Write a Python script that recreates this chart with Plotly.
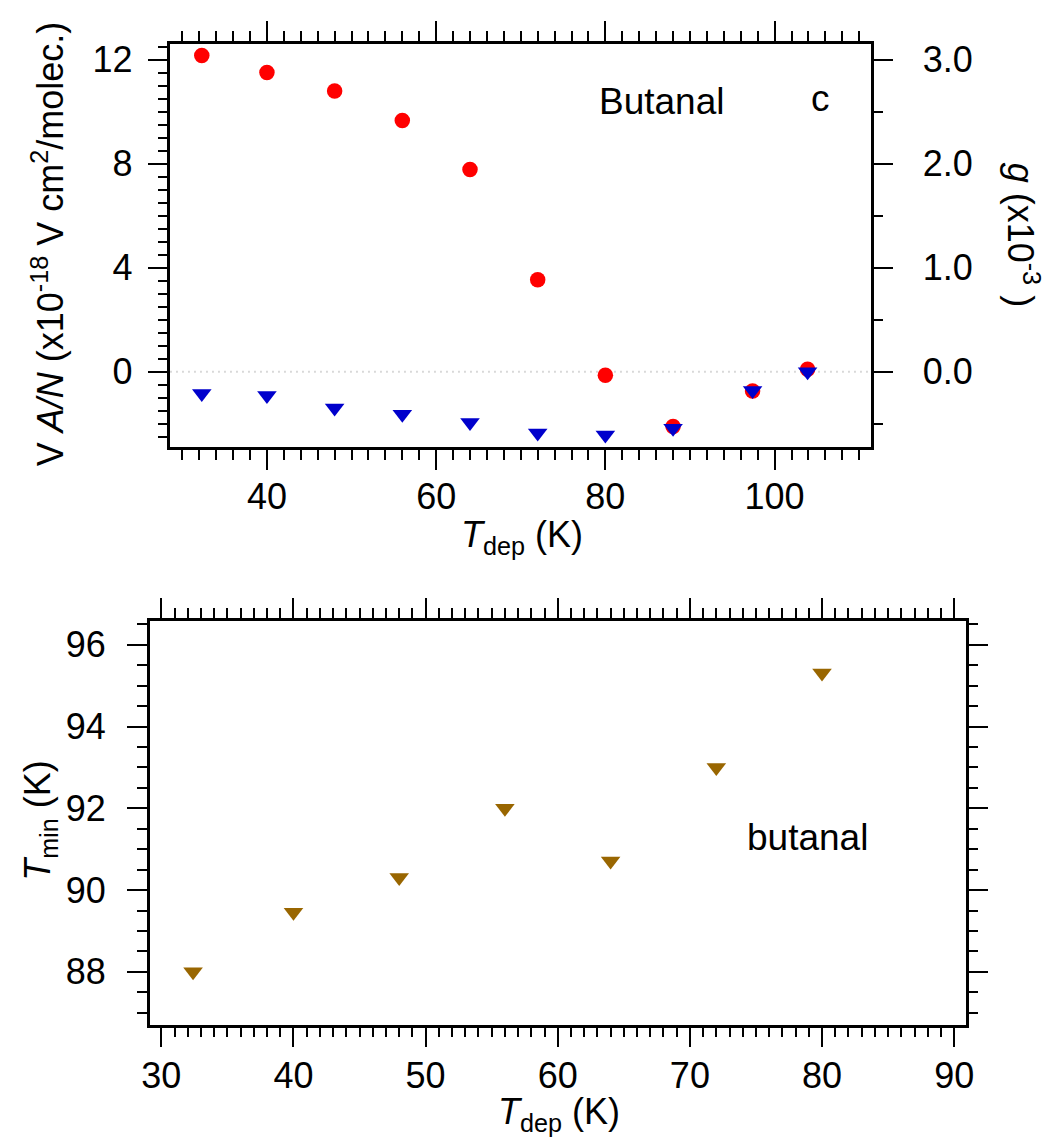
import plotly.graph_objects as go

# Deposition temperatures (K) and measured quantities for butanal films
t_dep_top = [32.3, 40, 48, 56, 64, 72, 80, 88, 97.4, 103.9]
va_over_n = [12.16, 11.51, 10.80, 9.66, 7.78, 3.54, -0.14, -2.11, -0.74, 0.09]   # x10^-18 V cm^2/molec.
g_factor = [-0.21, -0.23, -0.35, -0.41, -0.49, -0.59, -0.61, -0.545, -0.18, 0.0]  # x10^-3

t_dep_bottom = [32.4, 40, 48, 56, 64, 72, 80]
t_min = [88.0, 89.46, 90.31, 92.0, 90.71, 93.0, 95.31]

# axis ranges
x1_range = [28.6, 111.36]
y1_range = [-2.9, 12.6]
y2_range = [y1_range[0] / 4, y1_range[1] / 4]
x2_range = [29.13, 90.87]
y3_range = [86.71, 96.585]

FONT = "Liberation Sans, Arial, sans-serif"
FS = 36
W, H = 1052, 1141

RED = "#FF0000"
BLUE = "#0000CC"
GOLD = "#996600"


def px_x(p):
    return p / W


def px_y(p):
    return 1 - p / H


fig = go.Figure()

fig.add_trace(go.Scatter(
    x=t_dep_top, y=va_over_n, mode="markers", xaxis="x", yaxis="y",
    marker=dict(symbol="circle", size=15.5, color=RED, line=dict(width=0)),
    showlegend=False))
fig.add_trace(go.Scatter(
    x=t_dep_top, y=g_factor, mode="markers", xaxis="x", yaxis="y2",
    marker=dict(symbol="triangle-down", size=17, color=BLUE, line=dict(width=0)),
    showlegend=False))
fig.add_trace(go.Scatter(
    x=t_dep_bottom, y=t_min, mode="markers", xaxis="x2", yaxis="y3",
    marker=dict(symbol="triangle-down", size=17, color=GOLD, line=dict(width=0)),
    showlegend=False))

LW = 2.6
TW = 2.4
tickfont = dict(family=FONT, size=FS, color="black")

top_dom_x = [px_x(164.3), px_x(876.7)]
top_dom_y = [px_y(444), px_y(39.3)]
bot_dom_x = [px_x(143.3), px_x(973.3)]
bot_dom_y = [px_y(1024), px_y(618.7)]

common = dict(showgrid=False, zeroline=False, linecolor="black", linewidth=LW,
              ticks="outside", tickcolor="black", tickwidth=TW, tickfont=tickfont)

fig.update_layout(
    width=W, height=H,
    margin=dict(l=0, r=0, t=0, b=0),
    paper_bgcolor="white", plot_bgcolor="white",
    font=dict(family=FONT, size=FS, color="black"),
    xaxis=dict(common, domain=top_dom_x, anchor="y", range=x1_range,
               showline=True, mirror="ticks", tick0=40, dtick=20, ticklen=20,
               ticklabelstandoff=-4,
               minor=dict(dtick=2, tick0=0, ticklen=10, tickwidth=TW,
                          tickcolor="black", ticks="outside")),
    yaxis=dict(common, domain=top_dom_y, anchor="x", range=y1_range,
               showline=True, mirror=False, tick0=0, dtick=4, ticklen=20,
               ticklabelstandoff=8,
               minor=dict(dtick=0.5, tick0=0, ticklen=10, tickwidth=TW,
                          tickcolor="black", ticks="outside")),
    yaxis2=dict(common, overlaying="y", side="right", anchor="x", range=y2_range,
                showline=True, tick0=0, dtick=1, ticklen=20, tickformat=".1f",
                ticklabelstandoff=22,
                minor=dict(dtick=0.5, tick0=0, ticklen=10, tickwidth=TW,
                           tickcolor="black", ticks="outside")),
    # intermediate-length ticks every 10 K on the top panel
    xaxis3=dict(overlaying="x", anchor="y", range=x1_range, showgrid=False,
                zeroline=False, showline=False, showticklabels=False,
                ticks="outside", tickvals=[30, 50, 70, 90, 110], ticklen=15,
                tickwidth=TW, tickcolor="black", mirror="ticks"),
    xaxis2=dict(common, domain=bot_dom_x, anchor="y3", range=x2_range,
                showline=True, mirror="ticks", tick0=30, dtick=10, ticklen=20,
                ticklabelstandoff=-3,
                minor=dict(dtick=1, tick0=0, ticklen=10, tickwidth=TW,
                           tickcolor="black", ticks="outside")),
    yaxis3=dict(common, domain=bot_dom_y, anchor="x2", range=y3_range,
                showline=True, mirror="ticks", tick0=88, dtick=2, ticklen=20,
                ticklabelstandoff=14,
                minor=dict(dtick=0.5, tick0=0, ticklen=10, tickwidth=TW,
                           tickcolor="black", ticks="outside")),
    # intermediate-length ticks every 5 K on the bottom panel
    xaxis4=dict(overlaying="x2", anchor="y3", range=x2_range, showgrid=False,
                zeroline=False, showline=False, showticklabels=False,
                ticks="outside", tickvals=[35, 45, 55, 65, 75, 85], ticklen=15,
                tickwidth=TW, tickcolor="black", mirror="ticks"),
)

# dotted zero reference line on the top panel
fig.add_shape(type="line", xref="x domain", yref="y", x0=0, x1=1, y0=0, y1=0,
              line=dict(color="#B4B4B4", width=2, dash="1px,5px"), layer="below")

ann = dict(showarrow=False, font=dict(family=FONT, size=FS, color="black"),
           xref="paper", yref="paper")
ann_big = dict(ann, font=dict(family=FONT, size=37, color="black"))

annotations = [
    dict(ann, text="<i>T</i><sub>dep</sub> (K)", x=px_x(522), y=px_y(534),
         xanchor="center", yanchor="middle"),
    dict(ann, text="V <i>A/N</i> (x10<sup>-18</sup> V cm<sup>2</sup>/molec.)",
         x=px_x(40), y=px_y(240), xanchor="center", yanchor="middle", textangle=-90),
    dict(ann, text="<i>g</i> (x10<sup>-3</sup> )", x=px_x(1032), y=px_y(231),
         xanchor="center", yanchor="middle", textangle=90),
    dict(ann_big, text="Butanal", x=px_x(598), y=px_y(96.5),
         xanchor="left", yanchor="middle"),
    dict(ann_big, text="c", x=px_x(814), y=px_y(94),
         xanchor="left", yanchor="middle"),
    dict(ann, text="<i>T</i><sub>dep</sub> (K)", x=px_x(560), y=px_y(1114),
         xanchor="center", yanchor="middle"),
    dict(ann, text="<i>T</i><sub>min</sub> (K)", x=px_x(32), y=px_y(819),
         xanchor="center", yanchor="middle", textangle=-90),
    dict(ann_big, text="butanal", x=px_x(749), y=px_y(836),
         xanchor="left", yanchor="middle"),
]
fig.update_layout(annotations=annotations)

fig.write_html("out.html")
